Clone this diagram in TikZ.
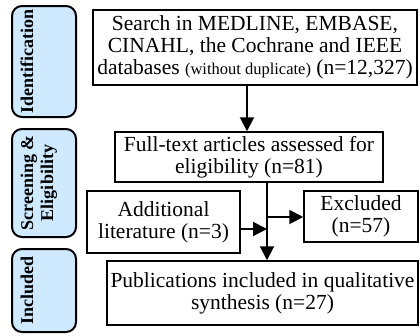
\documentclass[tikz,border=0pt]{standalone}
\usepackage{fontspec}
\setmainfont{Liberation Serif}
\usetikzlibrary{arrows.meta}

\definecolor{phasefill}{RGB}{207,234,255}
\newcommand{\phasetext}[3]{\parbox[c][64pt][t]{#1pt}{\centering\vspace*{7pt}#2\strut\\#3}}

\begin{document}
\begin{tikzpicture}[x=1pt, y=-1pt,
  phase/.style={draw, line width=2pt, fill=phasefill, rounded corners=10pt, inner sep=0pt, rotate=90,
    font=\fontsize{18}{20}\selectfont\bfseries},
  stage/.style={draw, line width=1.5pt, inner sep=0pt, align=center,
    font=\fontsize{21.5}{22}\selectfont},
  flow/.style={line width=2pt, -{Triangle[width=14pt,length=14pt]}},
]
\useasboundingbox (0,0) rectangle (420,335);

\node[phase] (identification) at (44,61.5) {\phasetext{111}{Identification}{}};
\node[phase] (screening) at (44,183) {\phasetext{108}{Screening \&}{Eligibility}};
\node[phase] (includedphase) at (44,290.5) {\phasetext{83}{Included}{}};

\node[stage, minimum width=324pt, minimum height=75pt] (search) at (255,47.5)
  {Search in MEDLINE, EMBASE,\\CINAHL, the Cochrane and IEEE\\databases {\fontsize{16.5}{22}\selectfont(without duplicate)} (n=12,327)};
\node[stage, minimum width=268pt, minimum height=50pt] (fulltext) at (249,157)
  {Full-text articles assessed for\\eligibility (n=81)};
\node[stage, minimum width=153pt, minimum height=62pt] (additional) at (163.5,222)
  {Additional\\literature (n=3)};
\node[stage, minimum width=114pt, minimum height=51pt] (excluded) at (361,216.5)
  {Excluded\\(n=57)};
\node[stage, minimum width=311pt, minimum height=64pt] (included) at (262.5,293)
  {Publications included in qualitative\\synthesis (n=27)};

\coordinate (join) at (267,229);
\coordinate (branch) at (267,217);

\draw[flow] ([xshift=-2pt]search.south -| fulltext.north) -- ([xshift=-2pt]fulltext.north);
\draw[flow] (fulltext.south -| join) -- (included.north -| join);
\draw[flow] (additional.east |- join) -- (join);
\draw[flow] (branch) -- (excluded.west |- branch);

\end{tikzpicture}
\end{document}
